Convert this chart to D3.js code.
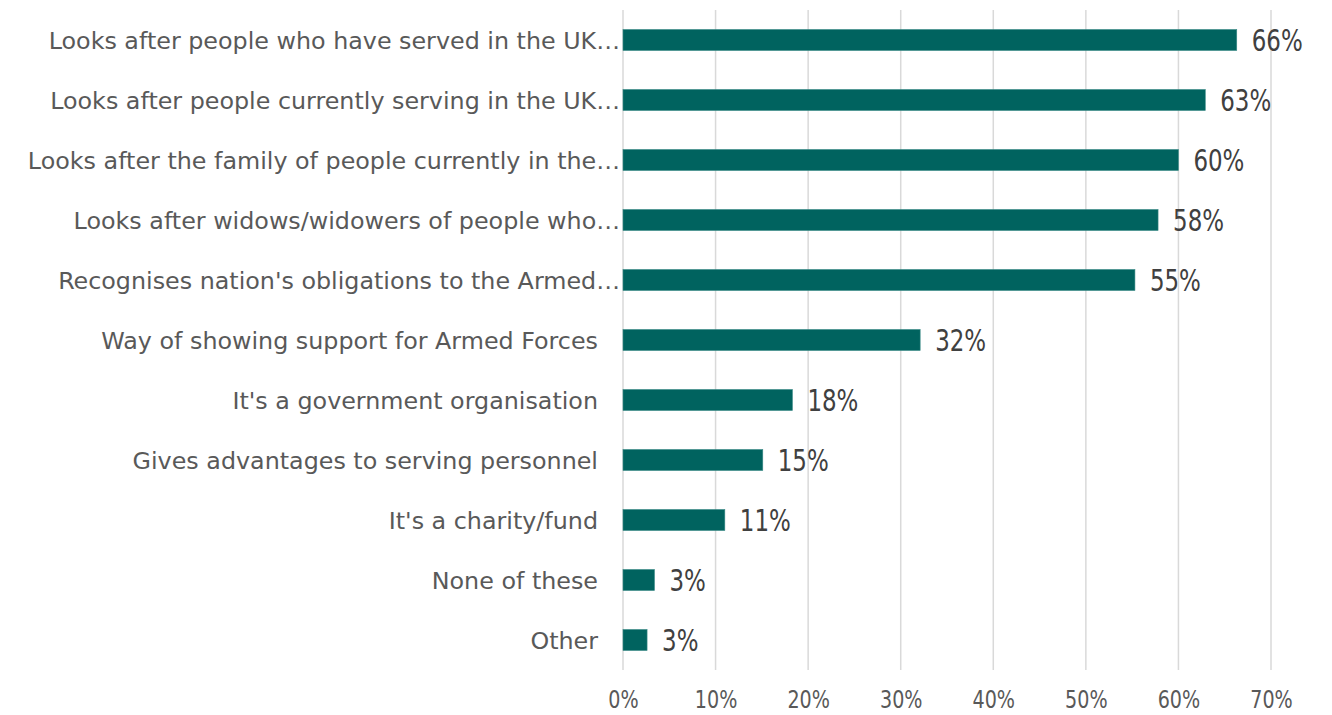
<!DOCTYPE html>
<html>
<head>
<meta charset="utf-8">
<script src="https://cdn.jsdelivr.net/npm/d3@7"></script>
<style>
  html, body { margin: 0; padding: 0; background: #ffffff; }
  svg { display: block; }
</style>
</head>
<body>
<svg id="chart" width="1332" height="715"></svg>
<script>
// Reasons given for the Armed Forces Covenant, share of respondents (%)
const categories = [
  "Looks after people who have served in the UK…",
  "Looks after people currently serving in the UK…",
  "Looks after the family of people currently in the…",
  "Looks after widows/widowers of people who…",
  "Recognises nation's obligations to the Armed…",
  "Way of showing support for Armed Forces",
  "It's a government organisation",
  "Gives advantages to serving personnel",
  "It's a charity/fund",
  "None of these",
  "Other"
];
const values = [66.3, 62.9, 60.0, 57.8, 55.3, 32.1, 18.3, 15.1, 11.0, 3.4, 2.6];
const tickValues = [0, 10, 20, 30, 40, 50, 60, 70];

const svg = d3.select("#chart");
const margin = { top: 10, left: 623, right: 61, bottom: 45 };
const width = 1332, height = 715;

const x = d3.scaleLinear()
  .domain([0, 70])
  .range([margin.left, width - margin.right]);

const y = d3.scaleBand()
  .domain(categories)
  .range([margin.top, height - margin.bottom])
  .paddingInner(0.65)
  .paddingOuter(0.325);

const labelFont = "'DejaVu Sans', sans-serif";
const numFont = "'DejaVu Sans Condensed', 'DejaVu Sans', sans-serif";
const squeeze = 0.85; // narrow the numeric glyphs

// Vertical gridlines
svg.append("g")
  .selectAll("line")
  .data(tickValues)
  .join("line")
  .attr("x1", d => x(d))
  .attr("x2", d => x(d))
  .attr("y1", margin.top)
  .attr("y2", height - margin.bottom)
  .attr("stroke", "#d9d9d9")
  .attr("stroke-width", 1.5);

// Bottom axis tick labels
const xAxis = d3.axisBottom(x)
  .tickValues(tickValues)
  .tickFormat(d => d + "%")
  .tickSize(0)
  .tickPadding(0);

const gx = svg.append("g")
  .attr("transform", `translate(0, ${height - margin.bottom + 20})`)
  .call(xAxis);
gx.select(".domain").remove();
gx.selectAll("text")
  .attr("font-family", numFont)
  .attr("font-size", 25)
  .attr("fill", "#595959")
  .attr("transform", `scale(${squeeze},1)`);

// Bars
svg.append("g")
  .selectAll("rect")
  .data(values)
  .join("rect")
  .attr("x", x(0))
  .attr("y", (d, i) => y(categories[i]))
  .attr("width", d => x(d) - x(0))
  .attr("height", y.bandwidth())
  .attr("fill", "#00635f")
  .attr("stroke", "#3a8a86")
  .attr("stroke-width", 0.6);

// Value labels
svg.append("g")
  .selectAll("text")
  .data(values)
  .join("text")
  .attr("transform", (d, i) =>
    `translate(${x(d) + 15}, ${y(categories[i]) + y.bandwidth() / 2}) scale(${squeeze},1)`)
  .attr("dy", "0.36em")
  .attr("font-family", numFont)
  .attr("font-size", 30)
  .attr("fill", "#404040")
  .text(d => d3.format(".0f")(d) + "%");

// Category labels
svg.append("g")
  .selectAll("text")
  .data(categories)
  .join("text")
  .attr("x", d => d.endsWith("…") ? x(0) - 3 : x(0) - 25)
  .attr("y", d => y(d) + y.bandwidth() / 2)
  .attr("dy", "0.36em")
  .attr("text-anchor", "end")
  .attr("font-family", labelFont)
  .attr("font-size", 23.8)
  .attr("fill", "#595959")
  .text(d => d);
</script>
</body>
</html>
